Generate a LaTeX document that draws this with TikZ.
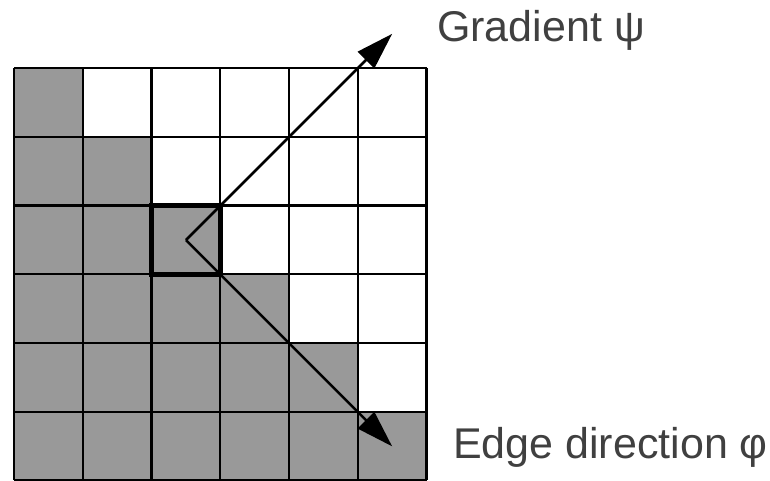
\documentclass[tikz,border=0pt]{standalone}
\usepackage{fontspec}
\setmainfont{Liberation Sans}
\usepackage{tikz}
\usetikzlibrary{arrows.meta,calc}
\newcommand{\figlabel}{\fontsize{43}{48}\selectfont}
\definecolor{grdInk}{RGB}{0,0,0}
\definecolor{grdFill}{RGB}{153,153,153}
\definecolor{grdText}{RGB}{64,64,64}
\tikzset{
  gridLine/.style={draw=grdInk, line width=2.2pt},
  edgeCell/.style={draw=grdInk, line width=5pt, line join=miter},
  dirArrow/.style={-{Triangle[length=37pt,width=23pt]}, line width=2.5pt,
    draw=grdInk},
  dirLabel/.style={font=\figlabel, text=grdText, inner sep=0pt, anchor=base west}
}
\begin{document}
\begin{tikzpicture}[x=1pt,y=1pt]
\useasboundingbox (0,0) rectangle (770,480);
\fill[white] (0,0) rectangle (770,480);
% grey pixels: row r from the top has r+1 filled cells
\foreach \r in {0,...,5} {
  \fill[grdFill] (14,{412-(\r+1)*68.75}) rectangle ({14+(\r+1)*68.75},{412-\r*68.75});
}
\foreach \i in {0,...,6} {
  \draw[gridLine] ({14+\i*68.75},0) -- ({14+\i*68.75},412);
  \draw[gridLine] (14,{412-\i*68.75}) -- (426.5,{412-\i*68.75});
}
\draw[edgeCell] (151.5,205.5) rectangle (220.25,274.25);
\coordinate (ctr) at (185.9,239.9);
\coordinate (gradtip) at ($(ctr)+(206.25,206.25)$);
\coordinate (edgetip) at ($(ctr)+(206.25,-206.25)$);
\draw[dirArrow] (ctr) -- (gradtip);
\draw[dirArrow] (ctr) -- (edgetip);
\node[dirLabel] (gradlbl) at (437,438) {Gradient ψ};
\node[dirLabel] (edgelbl) at (453,22) {Edge direction φ};
\end{tikzpicture}
\end{document}
